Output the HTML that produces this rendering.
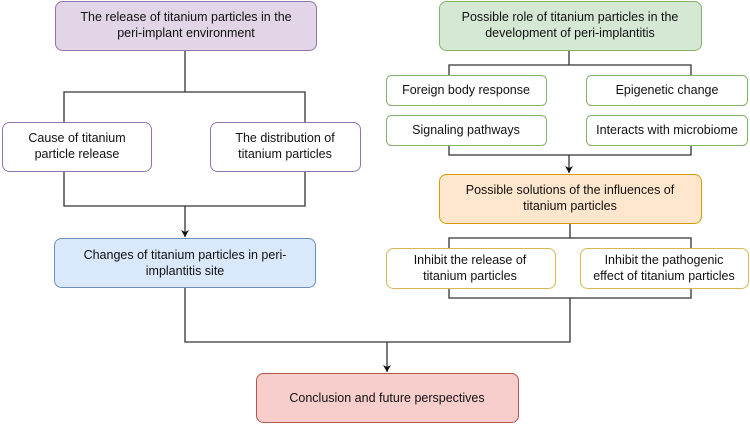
<!DOCTYPE html>
<html><head><meta charset="utf-8"><style>
html,body{margin:0;padding:0;background:#fff;width:750px;height:425px;overflow:hidden}
text{font-family:"Liberation Sans",Arial,sans-serif;font-size:12.5px;fill:#111;text-anchor:middle}
</style></head><body>
<svg width="750" height="425" viewBox="0 0 750 425" xmlns="http://www.w3.org/2000/svg">
<defs><marker id="a" markerWidth="8" markerHeight="8" refX="7" refY="4" orient="auto" markerUnits="userSpaceOnUse"><path d="M0,0 L7,4 L0,8 L2,4 Z" fill="#111"/></marker></defs>
<g fill="none" stroke="#333" stroke-width="1.3">
<path d="M185,51 V92 M64,122 V92 H305 V122"/>
<path d="M64,172 V206 H305 V172"/>
<path d="M185,206 V237" marker-end="url(#a)"/>
<path d="M569,51 V65 M449,75 V65 H691 V75"/>
<path d="M449,145 V155 H691 V145"/>
<path d="M569,155 V173" marker-end="url(#a)"/>
<path d="M570,224 V238 M449,248 V238 H691 V248"/>
<path d="M449,288 V298 H691 V288"/>
<path d="M185,288 V342 H570 V298"/>
<path d="M387,342 V372" marker-end="url(#a)"/>
</g>
<g stroke-width="1">
<rect x="55.5" y="1.5" width="261" height="49" rx="7" fill="#e1d5e7" stroke="#9673a6"/>
<rect x="2.5" y="122.5" width="149" height="49" rx="7" fill="#fff" stroke="#9673a6"/>
<rect x="210.5" y="122.5" width="150" height="49" rx="7" fill="#fff" stroke="#9673a6"/>
<rect x="54.5" y="238.5" width="261" height="49" rx="7" fill="#dae8fc" stroke="#6c8ebf"/>
<rect x="439.5" y="1.5" width="262" height="49" rx="7" fill="#d5e8d4" stroke="#82b366"/>
<rect x="386.5" y="75.5" width="160" height="30" rx="5" fill="#fff" stroke="#82b366"/>
<rect x="586.5" y="75.5" width="161" height="30" rx="5" fill="#fff" stroke="#82b366"/>
<rect x="386.5" y="115.5" width="160" height="30" rx="5" fill="#fff" stroke="#82b366"/>
<rect x="586.5" y="115.5" width="161" height="30" rx="5" fill="#fff" stroke="#82b366"/>
<rect x="439.5" y="174.5" width="262" height="49" rx="7" fill="#ffe6cc" stroke="#d79b00"/>
<rect x="386.5" y="248.5" width="169" height="40" rx="7" fill="#fff" stroke="#d6b656"/>
<rect x="580.5" y="248.5" width="168" height="40" rx="7" fill="#fff" stroke="#d6b656"/>
<rect x="256.5" y="373.5" width="262" height="49" rx="7" fill="#f8cecc" stroke="#b85450"/>
</g>
<text x="186" y="21">The release of titanium particles in the</text>
<text x="186" y="37">peri-implant environment</text>
<text x="77" y="142">Cause of titanium</text>
<text x="77" y="158">particle release</text>
<text x="285" y="142">The distribution of</text>
<text x="285" y="158">titanium particles</text>
<text x="185" y="259">Changes of titanium particles in peri-</text>
<text x="185" y="275">implantitis site</text>
<text x="570" y="21">Possible role of titanium particles in the</text>
<text x="570" y="37">development of peri-implantitis</text>
<text x="466" y="94">Foreign body response</text>
<text x="667" y="94">Epigenetic change</text>
<text x="466" y="134">Signaling pathways</text>
<text x="667" y="134">Interacts with microbiome</text>
<text x="570" y="194">Possible solutions of the influences of</text>
<text x="570" y="210">titanium particles</text>
<text x="470" y="264">Inhibit the release of</text>
<text x="470" y="280">titanium particles</text>
<text x="664" y="264">Inhibit the pathogenic</text>
<text x="664" y="280">effect of titanium particles</text>
<text x="387" y="402">Conclusion and future perspectives</text>
</svg>
</body></html>
